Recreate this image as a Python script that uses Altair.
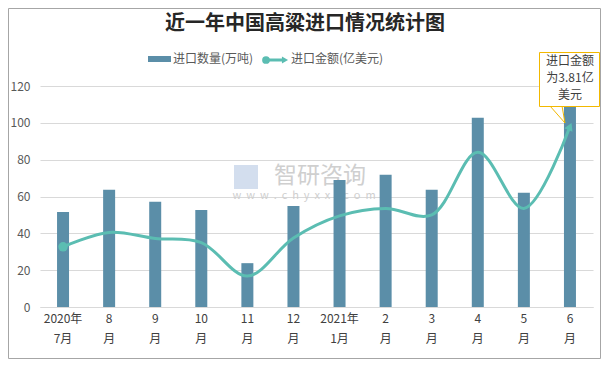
import altair as alt
import pandas as pd

months = ["2020年|7月", "8|月", "9|月", "10|月", "11|月", "12|月",
          "2021年|1月", "2|月", "3|月", "4|月", "5|月", "6|月"]
volume = [51.6, 63.6, 57.1, 52.7, 23.8, 54.9, 69.0, 71.8, 63.6, 102.8, 62.0, 115.0]
amount = [32.7, 40.5, 37.2, 35.0, 16.8, 37.5, 49.5, 53.5, 50.0, 84.0, 53.5, 98.0]
y_ticks = [0, 20, 40, 60, 80, 100, 120]

title_text = "近一年中国高粱进口情况统计图"
legend_bar = "进口数量(万吨)"
legend_line = "进口金额(亿美元)"
callout_lines = ["进口金额", "为3.81亿", "美元"]

df = pd.DataFrame({"month": months, "volume": volume, "amount": amount})

FONT = "Noto Sans CJK SC"
BAR_C = "#5B8EA8"
LINE_C = "#5BBDB2"
W, H = 553, 221

xaxis = alt.Axis(labelExpr="split(datum.label, '|')", labelAngle=0,
                 labelFont=FONT, labelFontSize=12, labelColor="#404040",
                 labelLineHeight=20, labelPadding=6, ticks=False,
                 domainColor="#D9D9D9", labelBaseline="top", title=None)
xscale = alt.Scale(paddingInner=0.0, paddingOuter=0.0)
yscale = alt.Scale(domain=[0, 120], nice=False)
yaxis = alt.Axis(values=y_ticks, tickCount=7, grid=True, gridColor="#D9D9D9",
                 domain=False, ticks=False, labelFont=FONT, labelFontSize=12,
                 labelColor="#595959", labelPadding=10, title=None, labelOverlap=False)

X = alt.X("month:N", sort=months, scale=xscale, axis=xaxis)

one = alt.Data(values=[{}])

border = alt.Chart(one).mark_rect(fillOpacity=0, stroke="#A6A6A6", strokeWidth=1).encode(
    x=alt.value(-31.5), x2=alt.value(560.5), y=alt.value(-77.5), y2=alt.value(272.5))

title = alt.Chart(one).mark_text(font=FONT, fontSize=20, fontWeight="bold", color="#262626",
                                 align="center", baseline="middle").encode(
    x=alt.value(265), y=alt.value(-62), text=alt.value(title_text))

wm1 = alt.Chart(one).mark_text(font=FONT, fontSize=23, color="#CFCFCF", align="center",
                               baseline="middle").encode(
    x=alt.value(280), y=alt.value(90), text=alt.value("智研咨询"))
sp = "\u00a0\u00a0"
wm2 = alt.Chart(one).mark_text(font=FONT, fontSize=11, color="#CFCFCF", align="center",
                               baseline="middle").encode(
    x=alt.value(264), y=alt.value(110), text=alt.value(sp.join("www.chyxx.com")))
wm_logo = alt.Chart(one).mark_rect(color="#D3DEEE").encode(
    x=alt.value(194), x2=alt.value(218), y=alt.value(79), y2=alt.value(103))

bars = alt.Chart(df).mark_bar(color=BAR_C, size=12).encode(
    x=X, y=alt.Y("volume:Q", scale=yscale, axis=yaxis))

line = alt.Chart(df).mark_line(color=LINE_C, strokeWidth=3, interpolate="catmull-rom").encode(
    x=X, y=alt.Y("amount:Q", scale=yscale, axis=yaxis))

start_pt = alt.Chart(df.iloc[[0]]).mark_point(shape="circle", filled=True, size=90,
                                               color=LINE_C, opacity=1).encode(
    x=X, y=alt.Y("amount:Q", scale=yscale, axis=yaxis))
end_pt = alt.Chart(df.iloc[[-1]]).mark_point(shape="triangle-up", filled=True, size=80,
                                              color=LINE_C, opacity=1, angle=24).encode(
    x=X, y=alt.Y("amount:Q", scale=yscale, axis=yaxis))

# legend
leg_rect = alt.Chart(one).mark_rect(color=BAR_C).encode(
    x=alt.value(108), x2=alt.value(131), y=alt.value(-30), y2=alt.value(-24))
leg_t1 = alt.Chart(one).mark_text(font=FONT, fontSize=12, color="#595959", align="left",
                                  baseline="middle").encode(
    x=alt.value(133), y=alt.value(-27), text=alt.value(legend_bar))
leg_line = alt.Chart(one).mark_rule(color=LINE_C, strokeWidth=3).encode(
    x=alt.value(226), x2=alt.value(244), y=alt.value(-26))
leg_c = alt.Chart(one).mark_point(shape="circle", filled=True, size=60, color=LINE_C,
                                  opacity=1).encode(x=alt.value(226), y=alt.value(-26))
leg_tri = alt.Chart(one).mark_point(shape="triangle-up", filled=True, size=50, color=LINE_C,
                                    opacity=1, angle=90).encode(x=alt.value(245), y=alt.value(-26))
leg_t2 = alt.Chart(one).mark_text(font=FONT, fontSize=12, color="#595959", align="left",
                                  baseline="middle").encode(
    x=alt.value(251), y=alt.value(-27), text=alt.value(legend_line))

# callout
pointer1 = alt.Chart(one).mark_rule(color="#F2B800", strokeWidth=1).encode(
    x=alt.value(510), x2=alt.value(525), y=alt.value(20), y2=alt.value(37))
pointer2 = alt.Chart(one).mark_rule(color="#F2B800", strokeWidth=1).encode(
    x=alt.value(522), x2=alt.value(525), y=alt.value(20), y2=alt.value(37))
box = alt.Chart(one).mark_rect(fill="white", stroke="#F2B800", strokeWidth=1).encode(
    x=alt.value(499.5), x2=alt.value(559.5), y=alt.value(-33.5), y2=alt.value(20.5))
box_t = alt.Chart(one).mark_text(font=FONT, fontSize=12, color="#404040", align="center",
                                 baseline="top", lineHeight=17).encode(
    x=alt.value(530), y=alt.value(-30), text=alt.value(callout_lines))

chart = alt.layer(border, title, wm_logo, wm1, wm2, bars, line, start_pt, end_pt,
                  leg_rect, leg_t1, leg_line, leg_c, leg_tri, leg_t2,
                  pointer1, pointer2, box, box_t).properties(
    width=W, height=H,
    autosize=alt.AutoSizeParams(type="none"),
    padding={"left": 32, "top": 78, "right": 8, "bottom": 53},
    background="white",
).configure_view(stroke=None).configure_axisY(labelOverlap=False)

chart.save("out.html", embed_options={"renderer": "svg", "actions": False})
